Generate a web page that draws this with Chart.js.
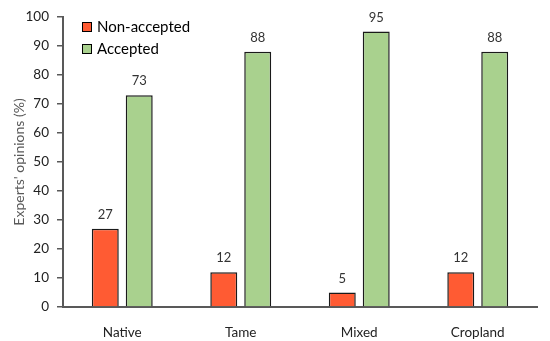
<!DOCTYPE html>
<html>
<head>
<meta charset="utf-8">
<script src="https://cdn.jsdelivr.net/npm/chart.js@4"></script>
<style>
  html, body { margin: 0; padding: 0; background: #fff; }
  #wrap { width: 550px; height: 341px; }
</style>
</head>
<body>
<div id="wrap"><canvas id="chart" width="550" height="341"></canvas></div>
<script>
const CATEGORIES = ["Native", "Tame", "Mixed", "Cropland"];
const NON_ACCEPTED = [27, 12, 5, 12];
const ACCEPTED = [73, 88, 95, 88];
const Y_TITLE = "Experts' opinions (%)";

const FONT = "Lato, 'Open Sans', sans-serif";
const GREY = "#595959";

// value labels above bars
const barLabels = {
  id: "barLabels",
  afterDatasetsDraw(chart) {
    const ctx = chart.ctx;
    ctx.save();
    ctx.font = "13px " + FONT;
    ctx.fillStyle = "#333";
    ctx.textAlign = "center";
    ctx.textBaseline = "middle";
    chart.data.datasets.forEach((ds, i) => {
      chart.getDatasetMeta(i).data.forEach((bar, j) => {
        ctx.fillText(ds.data[j], bar.x, bar.y - 14);
      });
    });
    ctx.restore();
  }
};

// legend inside plot + y title
const extras = {
  id: "extras",
  afterDraw(chart) {
    const ctx = chart.ctx;
    const area = chart.chartArea;
    ctx.save();
    ctx.font = "15px " + FONT;
    ctx.textBaseline = "middle";
    chart.data.datasets.forEach((ds, i) => {
      const y = area.top + 10 + i * 22;
      const x = area.left + 19;
      ctx.fillStyle = ds.backgroundColor;
      ctx.fillRect(x, y - 5, 10, 10);
      ctx.lineWidth = 1;
      ctx.strokeStyle = "#000";
      ctx.strokeRect(x + 0.5, y - 4.5, 9, 9);
      ctx.fillStyle = "#000";
      ctx.fillText(ds.label, x + 15, y);
    });
    ctx.translate(19, (area.top + area.bottom) / 2);
    ctx.rotate(-Math.PI / 2);
    ctx.font = "14px " + FONT;
    ctx.fillStyle = GREY;
    ctx.textAlign = "center";
    ctx.fillText(Y_TITLE, 0, 0);
    ctx.restore();
  }
};

new Chart(document.getElementById("chart").getContext("2d"), {
  type: "bar",
  data: {
    labels: CATEGORIES,
    datasets: [
      { label: "Non-accepted", data: NON_ACCEPTED, backgroundColor: "#FF5B33", borderColor: "#1a1a1a", borderWidth: 1.5 },
      { label: "Accepted", data: ACCEPTED, backgroundColor: "#A9D18E", borderColor: "#1a1a1a", borderWidth: 1.5 }
    ]
  },
  options: {
    responsive: false,
    animation: false,
    layout: { padding: { top: 17, right: 13, left: 0, bottom: 0 } },
    datasets: { bar: { categoryPercentage: 0.573, barPercentage: 0.794 } },
    plugins: { legend: { display: false }, tooltip: { enabled: false } },
    scales: {
      x: {
        grid: { display: false },
        border: { color: GREY, width: 2 },
        ticks: { color: "#222", font: { family: FONT, size: 13.5 }, padding: 10 },
        afterFit(s) { s.height = 34; }
      },
      y: {
        min: 0, max: 100,
        ticks: { stepSize: 10, color: "#222", font: { family: FONT, size: 13.5 }, padding: 8 },
        grid: { drawOnChartArea: false, drawTicks: true, tickLength: 6, color: GREY, lineWidth: 1.5 },
        border: { color: GREY, width: 2 },
        afterFit(s) { s.width = 63; }
      }
    }
  },
  plugins: [barLabels, extras]
});
</script>
</body>
</html>
